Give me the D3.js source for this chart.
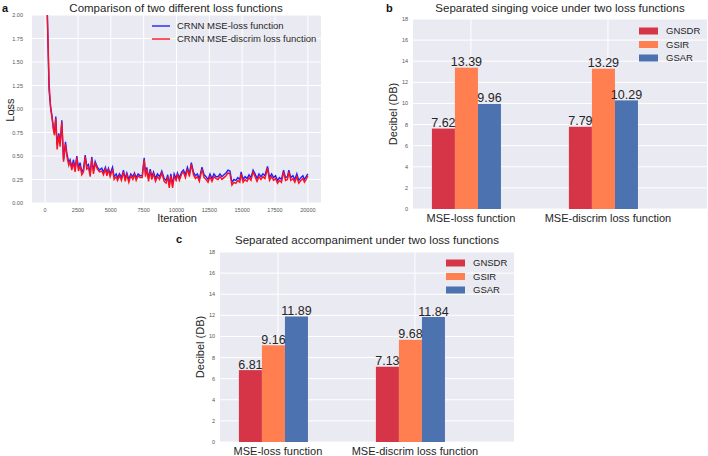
<!DOCTYPE html>
<html><head><meta charset="utf-8">
<script src="https://cdn.jsdelivr.net/npm/d3@7/dist/d3.min.js"></script>
<style>body{margin:0;background:#fff}svg{display:block}text{font-family:"Liberation Sans",Arial,sans-serif}</style>
</head><body><svg id="c" width="708" height="456"></svg>
<script>
// ---------- data ----------
const iterations = [150,300,420,510,630,710,810,910,1040,1140,1270,1400,1550,1650,1800,1900,2030,2160,2280,2410,2540,2660,2790,2920,3050,3170,3300,3430,3550,3680,3810,3980,4140,4310,4440,4590,4700,4820,4950,5130,5250,5410,5510,5660,5810,5960,6090,6220,6370,6520,6680,6800,6930,7080,7230,7390,7540,7640,7740,7870,8000,8120,8250,8400,8550,8710,8880,9060,9210,9330,9450,9570,9700,9820,9970,10070,10220,10400,10530,10680,10830,10980,11130,11290,11440,11590,11740,11940,12100,12250,12400,12550,12700,12850,13010,13160,13310,13460,13610,13770,13920,14070,14220,14370,14520,14670,14820,14920,15070,15220,15370,15520,15670,15830,15980,16130,16280,16430,16580,16730,16930,17080,17240,17390,17540,17690,17840,17990,18150,18300,18450,18550,18700,18860,19010,19160,19310,19470,19620,19740,19870,20000];
const lossMSE = [2.10,1.20,1.02,0.94,0.80,0.74,0.92,0.62,0.74,0.63,0.88,0.46,0.65,0.53,0.43,0.46,0.38,0.46,0.36,0.50,0.37,0.43,0.33,0.36,0.51,0.39,0.41,0.31,0.49,0.34,0.44,0.38,0.35,0.37,0.33,0.38,0.32,0.37,0.31,0.38,0.28,0.31,0.27,0.31,0.27,0.35,0.26,0.32,0.25,0.31,0.28,0.32,0.27,0.31,0.29,0.29,0.48,0.31,0.38,0.26,0.36,0.28,0.33,0.26,0.31,0.28,0.34,0.26,0.24,0.30,0.19,0.31,0.19,0.31,0.26,0.32,0.27,0.33,0.35,0.30,0.38,0.31,0.43,0.33,0.29,0.31,0.26,0.38,0.30,0.28,0.25,0.31,0.26,0.31,0.28,0.28,0.31,0.28,0.30,0.32,0.35,0.34,0.22,0.25,0.24,0.27,0.25,0.33,0.25,0.28,0.26,0.30,0.27,0.35,0.31,0.26,0.31,0.28,0.31,0.29,0.39,0.27,0.31,0.27,0.29,0.24,0.27,0.25,0.35,0.27,0.28,0.35,0.27,0.29,0.25,0.31,0.24,0.27,0.29,0.25,0.28,0.31];
const lossDiscrim = [2.10,1.28,1.00,0.92,0.78,0.72,0.90,0.57,0.72,0.60,0.86,0.44,0.63,0.50,0.40,0.44,0.35,0.43,0.33,0.48,0.34,0.40,0.30,0.33,0.49,0.36,0.38,0.28,0.47,0.31,0.42,0.36,0.33,0.34,0.30,0.36,0.29,0.35,0.28,0.36,0.25,0.28,0.24,0.29,0.24,0.33,0.23,0.30,0.22,0.29,0.25,0.30,0.24,0.29,0.27,0.27,0.46,0.28,0.36,0.23,0.34,0.25,0.31,0.23,0.28,0.25,0.32,0.23,0.21,0.28,0.16,0.29,0.16,0.28,0.24,0.30,0.24,0.31,0.33,0.27,0.36,0.28,0.41,0.30,0.26,0.28,0.23,0.36,0.27,0.25,0.22,0.28,0.23,0.28,0.26,0.25,0.28,0.25,0.27,0.29,0.32,0.31,0.19,0.22,0.21,0.24,0.22,0.31,0.22,0.25,0.23,0.27,0.24,0.33,0.28,0.23,0.28,0.25,0.28,0.26,0.37,0.24,0.28,0.24,0.26,0.21,0.24,0.22,0.33,0.24,0.25,0.33,0.24,0.26,0.22,0.28,0.21,0.24,0.26,0.22,0.25,0.29];
const lossSeriesNames = ["CRNN MSE-loss function","CRNN MSE-discrim loss function"];

const categories = ["MSE-loss function","MSE-discrim loss function"];
const metrics = ["GNSDR","GSIR","GSAR"];
const voiceGNSDR = [7.62, 7.79];
const voiceGSIR  = [13.39, 13.29];
const voiceGSAR  = [9.96, 10.29];
const accGNSDR = [6.81, 7.13];
const accGSIR  = [9.16, 9.68];
const accGSAR  = [11.89, 11.84];
const lossXTicks = [0,2500,5000,7500,10000,12500,15000,17500,20000];
const lossYTicks = [0,0.25,0.5,0.75,1.0,1.25,1.5,1.75,2.0];
const dbTicks = [0,2,4,6,8,10,12,14,16,18];

// ---------- style ----------
const BG = "#eaeaf2", TXT = "#262626", TICK = "#555";
const barColors = ["#d63447","#ff7f50","#4c72b0"];
const svg = d3.select("#c");

// ---------- panel a ----------
(function(){
  const L=32,R=321,T=15,B=203;
  const x = d3.scaleLinear().domain([-1000,21000]).range([L,R]);
  const y = d3.scaleLinear().domain([0,2]).range([B,T]);
  const g = svg.append("g");
  g.append("rect").attr("x",L).attr("y",T).attr("width",R-L).attr("height",B-T).attr("fill",BG);
  g.append("clipPath").attr("id","clipA").append("rect").attr("x",L).attr("y",T).attr("width",R-L).attr("height",B-T);
  g.selectAll(".gx").data(lossXTicks).enter().append("line")
    .attr("x1",d=>x(d)).attr("x2",d=>x(d)).attr("y1",T).attr("y2",B).attr("stroke","#fff").attr("stroke-width",1);
  g.selectAll(".gy").data(lossYTicks).enter().append("line")
    .attr("y1",d=>y(d)).attr("y2",d=>y(d)).attr("x1",L).attr("x2",R).attr("stroke","#fff").attr("stroke-width",1);
  g.selectAll(".tx").data(lossXTicks).enter().append("text")
    .attr("x",d=>x(d)).attr("y",B+8.5).attr("text-anchor","middle").attr("font-size",5.5).attr("fill",TICK).text(d=>d);
  g.selectAll(".ty").data(lossYTicks).enter().append("text")
    .attr("x",L-9).attr("y",d=>y(d)+2).attr("text-anchor","end").attr("font-size",5.5).attr("fill",TICK).text(d=>d.toFixed(2));
  const pts = iterations.map((it,i)=>({it, a:lossMSE[i], b:lossDiscrim[i]}));
  const lineA = d3.line().x(d=>x(d.it)).y(d=>y(d.a));
  const lineB = d3.line().x(d=>x(d.it)).y(d=>y(d.b));
  const lg = g.append("g").attr("clip-path","url(#clipA)");
  lg.append("path").attr("d",lineA(pts)).attr("fill","none").attr("stroke","#2020ff").attr("stroke-width",1.4);
  lg.append("path").attr("d",lineB(pts)).attr("fill","none").attr("stroke","#ff1020").attr("stroke-width",1.4);
  g.append("text").attr("x",176).attr("y",12).attr("text-anchor","middle").attr("font-size",11.5).attr("fill",TXT)
    .text("Comparison of two different loss functions");
  g.append("text").attr("x",177).attr("y",222).attr("text-anchor","middle").attr("font-size",11).attr("fill",TXT).text("Iteration");
  g.append("text").attr("transform","translate(14,110) rotate(-90)").attr("text-anchor","middle").attr("font-size",11).attr("fill",TXT).text("Loss");
  g.append("text").attr("x",2).attr("y",12).attr("font-family","Liberation Serif,serif").attr("font-weight","bold").attr("font-size",11).attr("fill","#111").text("a");
  const legCols = ["#2020ff","#ff1020"];
  lossSeriesNames.forEach((n,i)=>{
    const yy = 26 + i*13;
    g.append("line").attr("x1",152).attr("x2",170).attr("y1",yy).attr("y2",yy).attr("stroke",legCols[i]).attr("stroke-width",1.4);
    g.append("text").attr("x",177).attr("y",yy+3.3).attr("font-size",9.5).attr("fill",TXT).text(n);
  });
})();

// ---------- bar panels ----------
function barPanel(o){
  const {L,R,T,B,title,letter,letterX,letterY,titleY,ylabX,series,legX,legY} = o;
  const x = d3.scaleLinear().domain([-0.423,1.723]).range([L,R]);
  const y = d3.scaleLinear().domain([0,18]).range([B,T]);
  const barW = 0.168, shift = -0.285;
  const g = svg.append("g");
  g.append("rect").attr("x",L).attr("y",T).attr("width",R-L).attr("height",B-T).attr("fill",BG);
  g.selectAll(".gy").data(dbTicks).enter().append("line")
    .attr("x1",L).attr("x2",R).attr("y1",d=>y(d)).attr("y2",d=>y(d)).attr("stroke","#fff").attr("stroke-width",1);
  g.selectAll(".gx").data(categories).enter().append("line")
    .attr("x1",(d,i)=>x(i)).attr("x2",(d,i)=>x(i)).attr("y1",T).attr("y2",B).attr("stroke","#fff").attr("stroke-width",1);
  g.selectAll(".ty").data(dbTicks).enter().append("text")
    .attr("x",L-5).attr("y",d=>y(d)+2).attr("text-anchor","end").attr("font-size",5.5).attr("fill",TICK).text(d=>d);
  series.forEach((vals,k)=>{
    vals.forEach((v,i)=>{
      const x0 = x(i+shift+k*barW), x1 = x(i+shift+(k+1)*barW);
      g.append("rect").attr("x",x0).attr("y",y(v)).attr("width",x1-x0).attr("height",y(0)-y(v)).attr("fill",barColors[k]);
    });
  });
  series.forEach((vals,k)=>{
    vals.forEach((v,i)=>{
      const xc = x(i+shift+(k+0.5)*barW);
      g.append("text").attr("x",xc).attr("y",y(v)-1.5).attr("text-anchor","middle").attr("font-size",12.5).attr("fill",TXT).text(v.toFixed(2));
    });
  });
  g.selectAll(".cx").data(categories).enter().append("text")
    .attr("x",(d,i)=>x(i)).attr("y",B+13).attr("text-anchor","middle").attr("font-size",11).attr("fill",TXT).text(d=>d);
  g.append("text").attr("transform",`translate(${ylabX},${(T+B)/2}) rotate(-90)`).attr("text-anchor","middle").attr("font-size",11).attr("fill",TXT).text("Decibel (DB)");
  g.append("text").attr("x",(L+R)/2).attr("y",titleY).attr("text-anchor","middle").attr("font-size",11.5).attr("fill",TXT).text(title);
  g.append("text").attr("x",letterX).attr("y",letterY).attr("font-family","Liberation Serif,serif").attr("font-weight","bold").attr("font-size",11).attr("fill","#111").text(letter);
  metrics.forEach((m,k)=>{
    const yy = legY + k*13.5;
    g.append("rect").attr("x",legX).attr("y",yy-3.5).attr("width",19).attr("height",7).attr("fill",barColors[k]);
    g.append("text").attr("x",legX+27).attr("y",yy+3.3).attr("font-size",9.5).attr("fill",TXT).text(m);
  });
}
barPanel({L:413,R:707,T:19,B:209,title:"Separated singing voice under two loss functions",letter:"b",letterX:386,letterY:12,titleY:12,ylabX:397,
  series:[voiceGNSDR,voiceGSIR,voiceGSAR],legX:639,legY:31});
barPanel({L:220,R:514,T:252,B:442,title:"Separated accompaniment under two loss functions",letter:"c",letterX:176,letterY:243,titleY:244,ylabX:204,
  series:[accGNSDR,accGSIR,accGSAR],legX:446,legY:263});
</script></body></html>
